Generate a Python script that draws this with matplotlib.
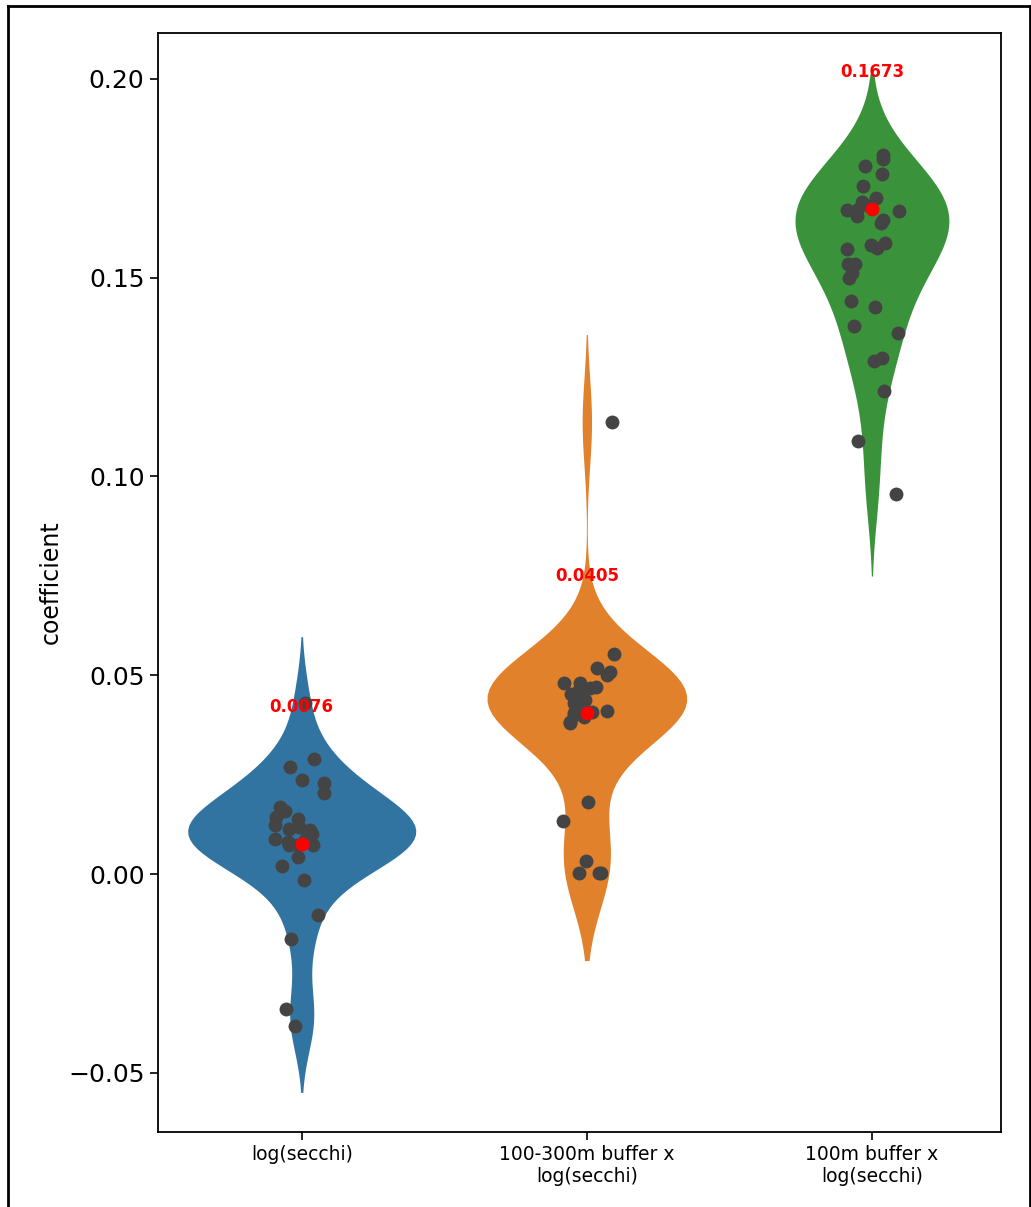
import matplotlib

matplotlib.use("Agg")
import matplotlib.pyplot as plt  # noqa: E402
import numpy as np  # noqa: E402
import pandas as pd  # noqa: E402
import seaborn as sns  # noqa: E402
from matplotlib.lines import Line2D  # noqa: E402

terms = ["log(secchi)", "100-300m buffer x\nlog(secchi)", "100m buffer x\nlog(secchi)"]

coef_secchi = [0.0430, 0.0289, 0.0270, 0.0236, 0.0229, 0.0204, 0.0169, 0.0159, 0.0144,
               0.0138, 0.0123, 0.0118, 0.0111, 0.0113, 0.0102, 0.0094, 0.0087, 0.0086,
               0.0080, 0.0073, 0.0073, 0.0073, 0.0044, 0.0020, -0.0015, -0.0103,
               -0.0164, -0.0340, -0.0382]
coef_buf300 = [0.1137, 0.0553, 0.0517, 0.0509, 0.0501, 0.0481, 0.0480, 0.0471, 0.0467,
               0.0463, 0.0454, 0.0438, 0.0438, 0.0430, 0.0426, 0.0413, 0.0410, 0.0408,
               0.0400, 0.0406, 0.0396, 0.0379, 0.0383, 0.0182, 0.0134, 0.0034, 0.0003,
               0.0002, 0.0002]
coef_buf100 = [0.1807, 0.1798, 0.1781, 0.1760, 0.1731, 0.1700, 0.1691, 0.1679, 0.1670,
               0.1670, 0.1668, 0.1654, 0.1645, 0.1637, 0.1588, 0.1582, 0.1575, 0.1571,
               0.1534, 0.1534, 0.1511, 0.1500, 0.1442, 0.1425, 0.1379, 0.1360, 0.1297,
               0.1291, 0.1215, 0.1090, 0.0955]

# highlighted (full-model) estimate per term
highlight = [0.0076, 0.0405, 0.1673]

rows = []
for term, vals, hv in zip(terms, [coef_secchi, coef_buf300, coef_buf100], highlight):
    for v in vals:
        rows.append((term, v, False))
    rows.append((term, hv, True))
df = pd.DataFrame(rows, columns=["term", "coefficient", "best"])

fig = plt.figure(figsize=(10.31, 12.07), dpi=100)
ax = fig.add_axes([0.153, 0.062, 0.818, 0.911])

palette = sns.color_palette(n_colors=3)
widths = [0.8, 0.7, 0.54]
for term, w in zip(terms, widths):
    sns.violinplot(data=df[df.term == term], x="term", y="coefficient", order=terms,
                   hue="term", hue_order=terms, palette=palette, inner=None,
                   linewidth=0, density_norm="width", width=w, legend=False, ax=ax)

np.random.seed(3)
sns.stripplot(data=df[~df.best], x="term", y="coefficient", order=terms,
              color="#444444", size=10, jitter=0.1, ax=ax, zorder=3)
sns.stripplot(data=df[df.best], x="term", y="coefficient", order=terms,
              color="red", size=10, jitter=0.1, ax=ax, zorder=4)

for i, hv in enumerate(highlight):
    ax.text(i, hv + 0.0345, f"{hv:.4f}", color="red", fontsize=12,
            fontweight="bold", ha="center", va="center", zorder=5)

ax.set_xlim(-0.505, 2.453)
ax.set_ylim(-0.0649, 0.2116)
ax.set_xlabel("")
ax.set_ylabel("coefficient", fontsize=17)
ax.tick_params(axis="y", labelsize=18, width=1.2, length=6)
ax.tick_params(axis="x", labelsize=13.5, width=1.2, length=6)
for s in ax.spines.values():
    s.set_linewidth(1.3)

# outer screenshot frame
for xs, ys in [([0.0078, 0.999], [0.995, 0.995]), ([0.0078, 0.0078], [0.0, 0.995]),
               ([0.999, 0.999], [0.0, 0.995])]:
    fig.add_artist(Line2D(xs, ys, color="black", lw=2, transform=fig.transFigure))

fig.savefig("out.png", dpi=100)
